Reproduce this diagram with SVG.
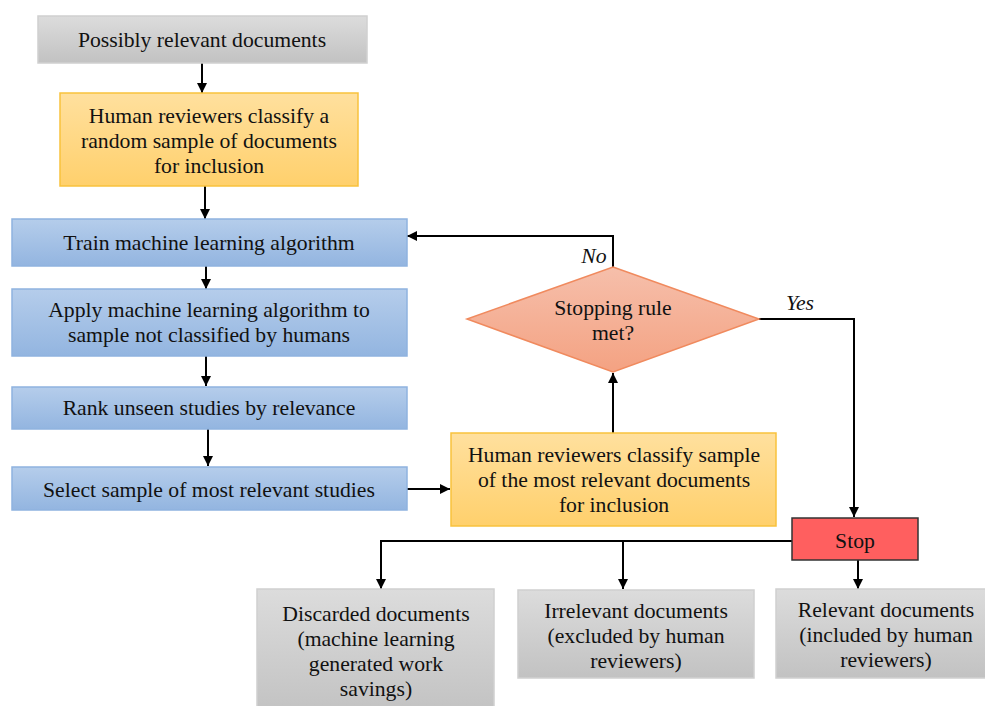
<svg xmlns="http://www.w3.org/2000/svg" width="985" height="706" viewBox="0 0 985 706">
<defs>
<linearGradient id="gGray" x1="0" y1="0" x2="0" y2="1"><stop offset="0" stop-color="#dcdcdc"/><stop offset="1" stop-color="#c2c2c2"/></linearGradient>
<linearGradient id="gYel" x1="0" y1="0" x2="0" y2="1"><stop offset="0" stop-color="#ffe09e"/><stop offset="1" stop-color="#ffd06c"/></linearGradient>
<linearGradient id="gBlue" x1="0" y1="0" x2="0" y2="1"><stop offset="0" stop-color="#b5cdeb"/><stop offset="1" stop-color="#93b5e0"/></linearGradient>
<linearGradient id="gDia" x1="0" y1="0" x2="0" y2="1"><stop offset="0" stop-color="#f6bfab"/><stop offset="1" stop-color="#f4a282"/></linearGradient>
<marker id="ah" viewBox="0 0 10 10" refX="10" refY="5" markerWidth="10" markerHeight="10" markerUnits="userSpaceOnUse" orient="auto"><path d="M0,0 L10,5 L0,10 z" fill="#000"/></marker>
<style>
.gray{fill:url(#gGray);stroke:#d0d0d0;stroke-width:1.5}
.yel{fill:url(#gYel);stroke:#f9c23c;stroke-width:1.5}
.blue{fill:url(#gBlue);stroke:#8fb3df;stroke-width:1.5}
.c{fill:none;stroke:#000;stroke-width:2;marker-end:url(#ah)}
</style>
</defs>
<rect width="985" height="706" fill="#fff"/>
<g font-family="Liberation Serif, Times New Roman, serif" font-size="21.7" fill="#111" text-anchor="middle">
<g id="connectors">
<line class="c" x1="202" y1="63" x2="202" y2="93"/>
<line class="c" x1="205" y1="186" x2="205" y2="219"/>
<line class="c" x1="206" y1="266" x2="206" y2="289"/>
<line class="c" x1="206" y1="356" x2="206" y2="386"/>
<line class="c" x1="208" y1="429" x2="208" y2="466"/>
<line class="c" x1="406" y1="489" x2="450" y2="489"/>
<line class="c" x1="613" y1="433" x2="613" y2="373"/>
<polyline class="c" points="613,267 613,236 407,236"/>
<polyline class="c" points="759,319 854,319 854,517"/>
<polyline class="c" points="792,541 381,541 381,589"/>
<line class="c" x1="623" y1="541" x2="623" y2="589"/>
<line class="c" x1="858" y1="560" x2="858" y2="589"/>
<text font-style="italic" x="594" y="263">No</text>
<text font-style="italic" x="800" y="310">Yes</text>
</g>
<g id="n1"><rect class="gray" x="38" y="16" width="329" height="47"/><text x="202" y="47">Possibly relevant documents</text></g>
<g id="n2"><rect class="yel" x="60" y="93" width="298" height="93"/><text x="209" y="123">Human reviewers classify a</text><text x="209" y="148">random sample of documents</text><text x="209" y="173">for inclusion</text></g>
<g id="n3"><rect class="blue" x="12" y="219" width="395" height="47"/><text x="209" y="250">Train machine learning algorithm</text></g>
<g id="n4"><rect class="blue" x="12" y="289" width="395" height="67"/><text x="209" y="317">Apply machine learning algorithm to</text><text x="209" y="342">sample not classified by humans</text></g>
<g id="n5"><rect class="blue" x="12" y="387" width="395" height="42"/><text x="209" y="415">Rank unseen studies by relevance</text></g>
<g id="n6"><rect class="blue" x="12" y="467" width="395" height="43"/><text x="209" y="497">Select sample of most relevant studies</text></g>
<g id="n7"><rect class="yel" x="451" y="433" width="325" height="93"/><text x="614" y="462">Human reviewers classify sample</text><text x="614" y="487">of the most relevant documents</text><text x="614" y="512">for inclusion</text></g>
<g id="n8"><polygon points="613,267 759,319 613,372 467,319" fill="url(#gDia)" stroke="#f08a5e" stroke-width="1.5"/><text x="613" y="315">Stopping rule</text><text x="613" y="340">met?</text></g>
<g id="n9"><rect x="792" y="518" width="126" height="42" fill="#ff5f5f" stroke="#333" stroke-width="1.5"/><text x="855" y="548">Stop</text></g>
<g id="n10"><rect class="gray" x="257" y="589" width="237" height="125"/><text x="376" y="621">Discarded documents</text><text x="376" y="646">(machine learning</text><text x="376" y="671">generated work</text><text x="376" y="696">savings)</text></g>
<g id="n11"><rect class="gray" x="518" y="590" width="236" height="88"/><text x="636" y="618">Irrelevant documents</text><text x="636" y="643">(excluded by human</text><text x="636" y="668">reviewers)</text></g>
<g id="n12"><rect class="gray" x="776" y="589" width="212" height="89"/><text x="886" y="617">Relevant documents</text><text x="886" y="642">(included by human</text><text x="886" y="667">reviewers)</text></g>
</g>
</svg>
